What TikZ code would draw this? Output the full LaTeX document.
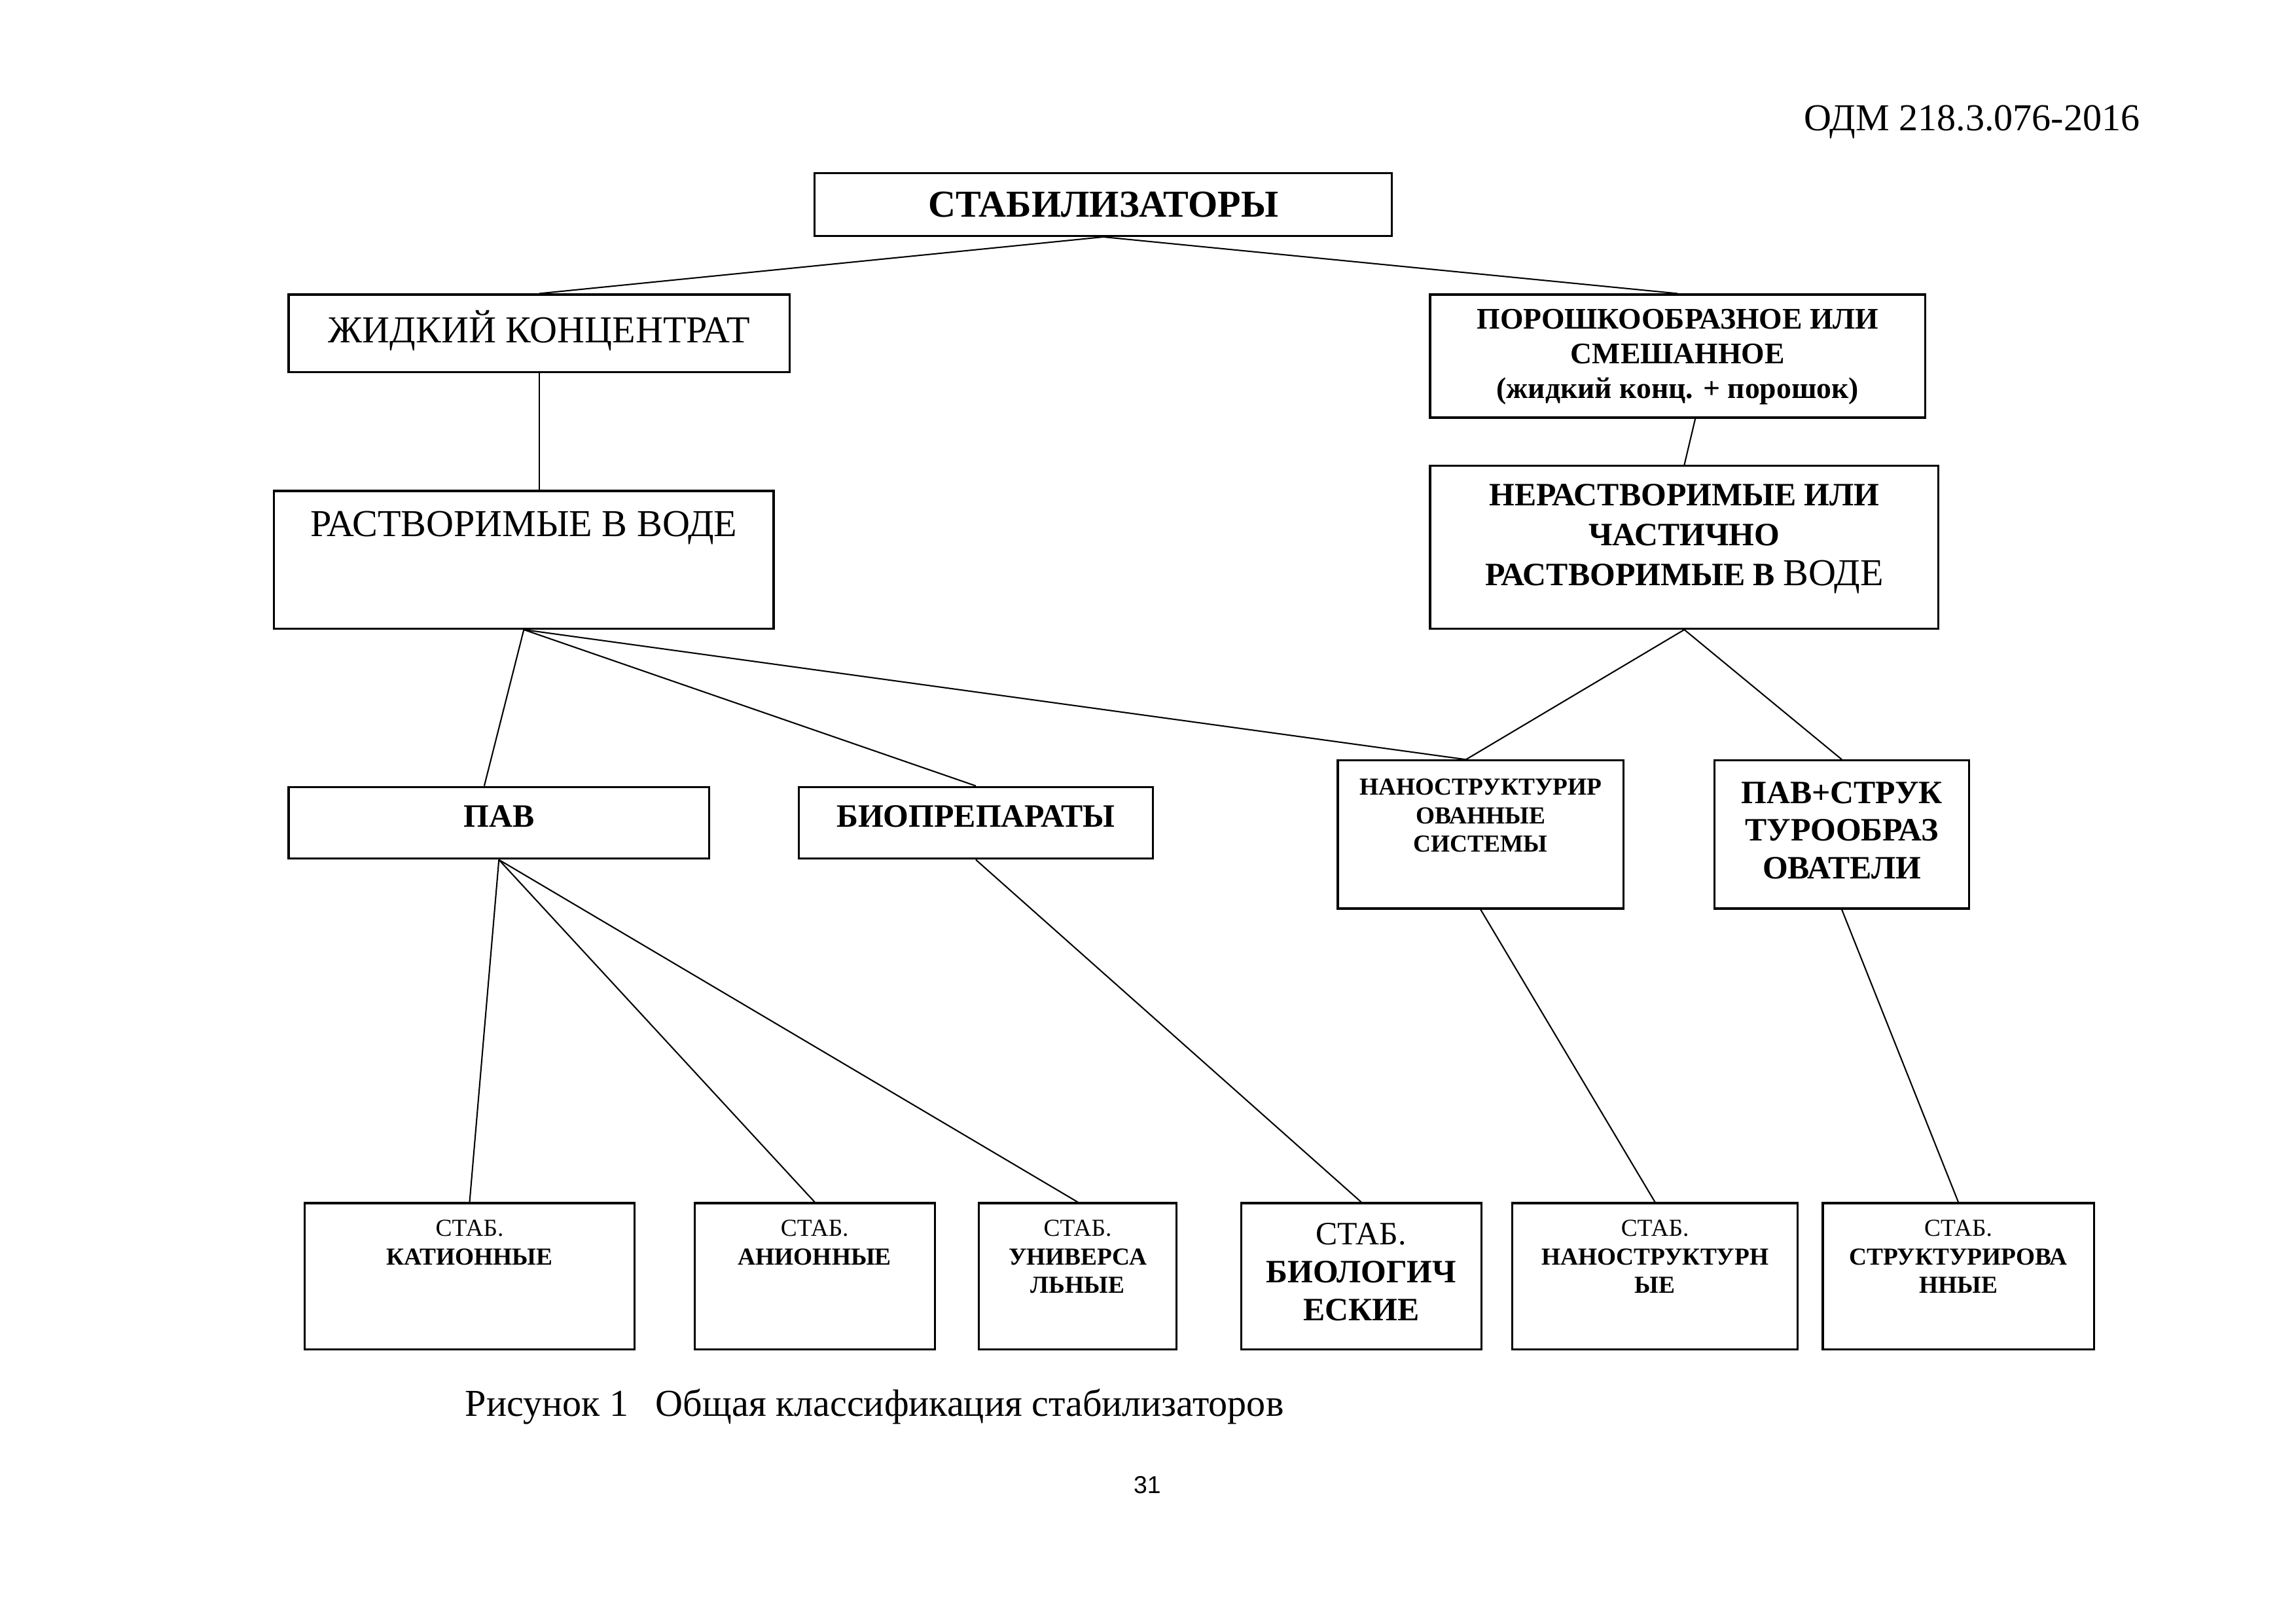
\documentclass[tikz,border=0pt]{standalone}
\usepackage{fontspec}
\setmainfont{Liberation Serif}
\newfontfamily\pagefont{Liberation Sans}
\usetikzlibrary{calc}
\newlength\pu
\setlength\pu{0.189534mm}
% width, height, top pad, text
\newcommand\boxtxt[4]{\parbox[c][#2\pu][t]{#1\pu}{\centering\vspace*{#3\pu}#4}}

\begin{document}
\begin{tikzpicture}[x=\pu,y=-\pu,
  box/.style={draw,line width=0.75pt,inner sep=0pt},
  link/.style={line width=0.5pt},
  f14/.style={font=\fontsize{14}{16}\selectfont},
  f12/.style={font=\fontsize{12}{14}\selectfont},
  f9/.style={font=\fontsize{9}{10.5}\selectfont}]
\useasboundingbox (0,0) rectangle (1567,1108);

\node[anchor=base east,f14] (odm) at (1467,89) {ОДМ 218.3.076-2016};

% top levels
\node[box,f14] (stab) at (753,139.5) {\boxtxt{394}{43}{13}{\bfseries СТАБИЛИЗАТОРЫ}};
\node[box,f14] (zhid) at (368,227.5) {\boxtxt{342}{53}{11}{ЖИДКИЙ КОНЦЕНТРАТ}};
\node[box,font=\fontsize{11}{12.7}\selectfont] (poro) at (1145,243)
  {\boxtxt{338}{84}{10}{\bfseries ПОРОШКООБРАЗНОЕ ИЛИ\\СМЕШАННОЕ\\(жидкий конц. + порошок)}};
\node[box,f14] (rast) at (357.5,382) {\boxtxt{341}{94}{14}{РАСТВОРИМЫЕ В ВОДЕ}};
\node[box,font=\fontsize{12}{14.6}\selectfont] (nerast) at (1149.5,373.5)
  {\boxtxt{347}{111}{12.5}{\bfseries НЕРАСТВОРИМЫЕ ИЛИ\\ЧАСТИЧНО\\РАСТВОРИМЫЕ В {\mdseries\fontsize{14}{14.6}\selectfont ВОДЕ}}};

% middle level
\node[box,f12] (pav) at (340.5,561.5) {\boxtxt{287}{49}{12.6}{\bfseries ПАВ}};
\node[box,f12] (bio) at (666,561.5) {\boxtxt{242}{49}{12.6}{\bfseries БИОПРЕПАРАТЫ}};
\node[box,f9] (nano) at (1010.5,569.5) {\boxtxt{195}{101}{12.5}{\bfseries НАНОСТРУКТУРИР\\ОВАННЫЕ\\СИСТЕМЫ}};
\node[box,font=\fontsize{12}{13.8}\selectfont] (pavs) at (1257,569.5) {\boxtxt{174}{101}{14.6}{\bfseries ПАВ+СТРУК\\ТУРООБРАЗ\\ОВАТЕЛИ}};

% bottom level
\node[box,f9] (kat) at (320.5,871) {\boxtxt{225}{100}{11.5}{СТАБ.\\\textbf{КАТИОННЫЕ}}};
\node[box,f9] (ani) at (556,871) {\boxtxt{164}{100}{11.5}{СТАБ.\\\textbf{АНИОННЫЕ}}};
\node[box,f9] (uni) at (735.5,871) {\boxtxt{135}{100}{11.5}{СТАБ.\\\textbf{УНИВЕРСА}\\\textbf{ЛЬНЫЕ}}};
\node[box,f12] (biol) at (929,871) {\boxtxt{164}{100}{13.6}{СТАБ.\\\textbf{БИОЛОГИЧ}\\\textbf{ЕСКИЕ}}};
\node[box,f9] (nanos) at (1129.5,871) {\boxtxt{195}{100}{11.5}{СТАБ.\\\textbf{НАНОСТРУКТУРН}\\\textbf{ЫЕ}}};
\node[box,f9] (struk) at (1336.5,871) {\boxtxt{185}{100}{11.5}{СТАБ.\\\textbf{СТРУКТУРИРОВА}\\\textbf{ННЫЕ}}};

% connectors
\draw[link] (stab.south) -- (zhid.north);
\draw[link] (stab.south) -- (poro.north);
\draw[link] (zhid.south) -- (zhid.south |- rast.north);
\draw[link] ($(poro.south)+(12,0)$) -- (nerast.north);
\coordinate (pavtop) at ($(pav.north)+(-10,0)$);
\coordinate (nanotop) at ($(nano.north)+(-10,0)$);
\foreach \b in {pavtop,bio.north,nanotop}
  \draw[link] (rast.south) -- (\b);
\foreach \b in {nanotop,pavs.north}
  \draw[link] (nerast.south) -- (\b);
\foreach \b in {kat,ani,uni}
  \draw[link] (pav.south) -- (\b.north);
\draw[link] (bio.south) -- (biol.north);
\draw[link] (nano.south) -- (nanos.north);
\draw[link] (pavs.south) -- (struk.north);

\node[anchor=base west,f14] (cap) at (311,966.5) {Рисунок 1\hspace{10pt}Общая классификация стабилизаторов};
\node[anchor=base,font=\pagefont\fontsize{9}{11}\selectfont] (page) at (783,1019) {31};
\end{tikzpicture}
\end{document}
